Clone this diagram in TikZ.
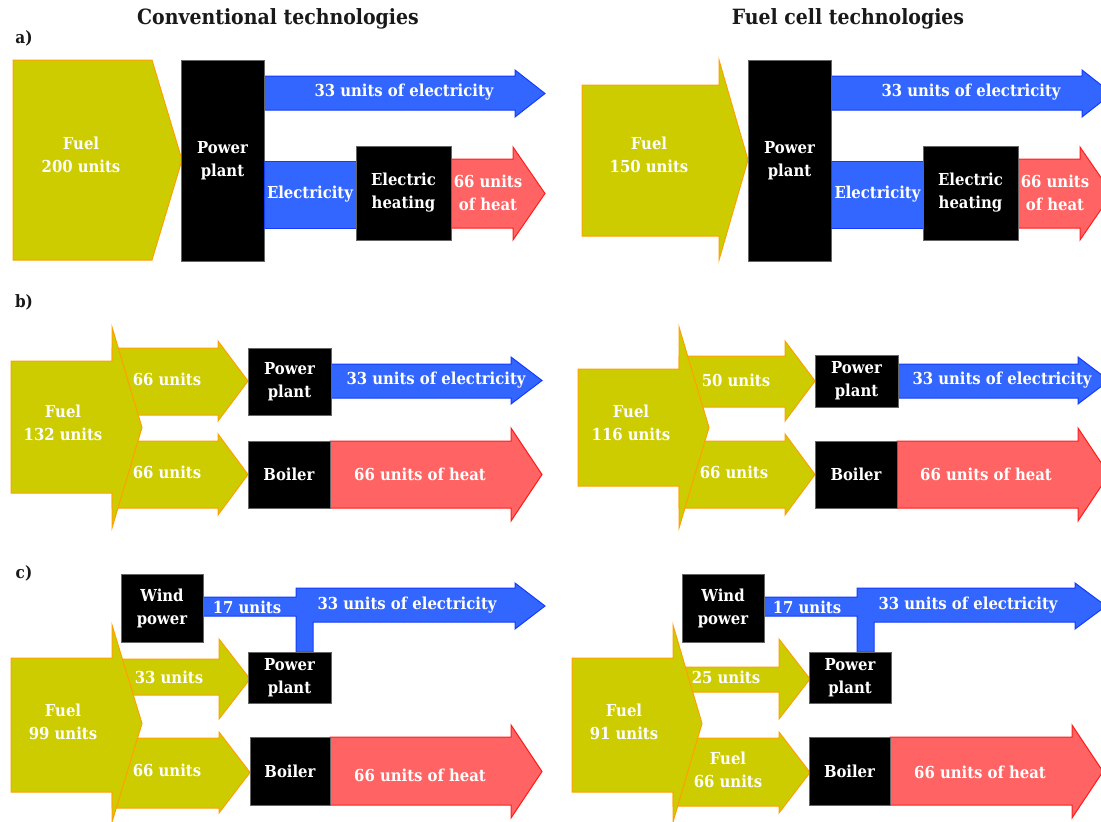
\documentclass[tikz,border=0pt]{standalone}
\usepackage{fontspec}
\newfontfamily\lblfont{DejaVu Serif}[FakeStretch=0.9]
\definecolor{fuelc}{RGB}{204,204,0}
\definecolor{fuelline}{RGB}{255,160,0}
\definecolor{elecc}{RGB}{51,102,255}
\definecolor{elecline}{RGB}{20,60,255}
\definecolor{heatc}{RGB}{255,99,99}
\definecolor{heatline}{RGB}{255,30,30}
\newcommand{\flow}[8][]{%
  \draw[#1] (#2,#5) -- (#3,#5) -- (#3,#7) -- (#4,{(#7+#8)/2}) -- (#3,#8) -- (#3,#6) -- (#2,#6) -- cycle;}

\begin{document}
\begin{tikzpicture}[
  x=1pt, y=-1pt,
  fuel/.style={fill=fuelc, draw=fuelline, line width=1pt},
  elec/.style={fill=elecc, draw=elecline, line width=1pt},
  heat/.style={fill=heatc, draw=heatline, line width=1pt},
  txt/.style={text=white, align=center, inner sep=0pt,
    font=\lblfont\bfseries\fontsize{16.5}{23}\selectfont},
  blk/.style 2 args={txt, fill=black, draw=black!60, line width=0.6pt,
    minimum width=#1pt, minimum height=#2pt},
  wire/.style 2 args={blk={#1}{#2}, fill=elecc, draw=elecline, line width=1pt},
  ttl/.style={text=black!90, font=\lblfont\bfseries\fontsize{21}{25}\selectfont},
  tag/.style={text=black!90, font=\lblfont\bfseries\fontsize{17}{20}\selectfont}
]
  \useasboundingbox (0,0) rectangle (1101,822);
  \clip (0,0) rectangle (1101,822);

  \node[ttl] (ttlConv) at (278,19) {Conventional technologies};
  \node[ttl] (ttlFc) at (848,19) {Fuel cell technologies};
  \node[tag] (tagA) at (24,38) {a)};
  \node[tag] (tagB) at (24,302) {b)};
  \node[tag] (tagC) at (24,573) {c)};

  % a) conventional
  \flow[fuel]{13}{152}{182}{60}{260}{60}{260}
  \flow[elec]{264}{515}{545}{76}{110}{70}{117}
  \flow[heat]{451}{513}{545}{159}{228}{147}{240}
  \node[blk={83}{201}] (ppA) at (222.5,160.5) {Power\\plant};
  \node[wire={92}{67}] (elA) at (310,194.5) {Electricity};
  \node[blk={95}{94}] (ehA) at (403.5,193) {Electric\\heating};
  \node[txt] (fuelA) at (81,155) {Fuel\\200 units};
  \node[txt] (outA) at (404,92) {33 units of electricity};
  \node[txt] (heatA) at (488,193) {66 units\\of heat};

  % a) fuel cell
  \flow[fuel]{582}{719}{748}{85}{236}{60}{260}
  \flow[elec]{831}{1082}{1112}{76}{110}{70}{117}
  \flow[heat]{1018}{1080}{1112}{159}{228}{147}{240}
  \node[blk={83}{201}] (ppAf) at (789.5,160.5) {Power\\plant};
  \node[wire={93}{67}] (elAf) at (877.5,194.5) {Electricity};
  \node[blk={95}{94}] (ehAf) at (970.5,193) {Electric\\heating};
  \node[txt] (fuelAf) at (649,155) {Fuel\\150 units};
  \node[txt] (outAf) at (971,92) {33 units of electricity};
  \node[txt] (heatAf) at (1055,193) {66 units\\of heat};

  % b) conventional
  \flow[fuel]{112}{218}{248}{348}{415}{341}{421}
  \flow[fuel]{112}{218}{248}{441}{508}{434}{515}
  \flow[fuel]{11}{112}{142}{361}{493}{327}{528}
  \flow[elec]{331}{511}{542}{364}{398}{357}{404}
  \flow[heat]{330}{511}{542}{441}{508}{428}{521}
  \node[blk={83}{67}] (ppB) at (289.5,381.5) {Power\\plant};
  \node[blk={82}{67}] (boB) at (289,474.5) {Boiler};
  \node[txt] (fuelB) at (63,423) {Fuel\\132 units};
  \node[txt] (inB) at (167,379) {66 units};
  \node[txt] (inBb) at (167,472) {66 units};
  \node[txt] (outB) at (436,380) {33 units of electricity};
  \node[txt] (heatB) at (420,474) {66 units of heat};

  % b) fuel cell
  \flow[fuel]{679}{785}{815}{356}{407}{341}{421}
  \flow[fuel]{679}{785}{815}{441}{508}{434}{515}
  \flow[fuel]{578}{679}{709}{369}{486}{327}{528}
  \flow[elec]{898}{1078}{1109}{364}{398}{357}{404}
  \flow[heat]{897}{1078}{1109}{441}{508}{428}{521}
  \node[blk={83}{52}] (ppBf) at (856.5,381) {Power\\plant};
  \node[blk={82}{67}] (boBf) at (856,474.5) {Boiler};
  \node[txt] (fuelBf) at (631,423) {Fuel\\116 units};
  \node[txt] (inBf) at (736,380) {50 units};
  \node[txt] (inBbf) at (734,472) {66 units};
  \node[txt] (outBf) at (1002,380) {33 units of electricity};
  \node[txt] (heatBf) at (986,474) {66 units of heat};

  % c) conventional
  \flow[fuel]{112}{219}{250}{659}{695}{639}{719}
  \flow[fuel]{112}{219}{250}{738}{808}{732}{813}
  \flow[fuel]{11}{112}{142}{658}{792}{625}{822}
  \draw[elec] (203,597) -- (296,597) -- (296,588) -- (515,588) -- (515,583) -- (545,606)
    -- (515,629) -- (515,622) -- (313,622) -- (313,652) -- (296,652) -- (296,616) -- (203,616) -- cycle;
  \flow[heat]{330}{511}{542}{737}{805}{725}{818}
  \node[blk={82}{68}] (wpC) at (162,608) {Wind\\power};
  \node[blk={83}{51}] (ppC) at (289.5,677.5) {Power\\plant};
  \node[blk={80}{68}] (boC) at (290,771) {Boiler};
  \node[txt] (fuelC) at (63,722) {Fuel\\99 units};
  \node[txt] (windC) at (247,607) {17 units};
  \node[txt] (outC) at (407,605) {33 units of electricity};
  \node[txt] (inC) at (169,677) {33 units};
  \node[txt] (inCb) at (167,770) {66 units};
  \node[txt] (heatC) at (420,775) {66 units of heat};

  % c) fuel cell
  \flow[fuel]{673}{779}{810}{667}{692}{639}{719}
  \flow[fuel]{673}{779}{810}{738}{806}{732}{813}
  \flow[fuel]{572}{673}{702}{658}{792}{625}{822}
  \draw[elec] (764,597) -- (857,597) -- (857,588) -- (1075,588) -- (1075,583) -- (1106,606)
    -- (1075,629) -- (1075,622) -- (874,622) -- (874,652) -- (857,652) -- (857,616) -- (764,616) -- cycle;
  \flow[heat]{890}{1072}{1103}{737}{805}{725}{818}
  \node[blk={82}{68}] (wpCf) at (723,608) {Wind\\power};
  \node[blk={82}{51}] (ppCf) at (850,677.5) {Power\\plant};
  \node[blk={81}{68}] (boCf) at (849.5,771) {Boiler};
  \node[txt] (fuelCf) at (624,722) {Fuel\\91 units};
  \node[txt] (windCf) at (807,607) {17 units};
  \node[txt] (outCf) at (968,605) {33 units of electricity};
  \node[txt] (inCf) at (726,677) {25 units};
  \node[txt] (inCbf) at (728,770) {Fuel\\66 units};
  \node[txt] (heatCf) at (980,772) {66 units of heat};
\end{tikzpicture}
\end{document}
